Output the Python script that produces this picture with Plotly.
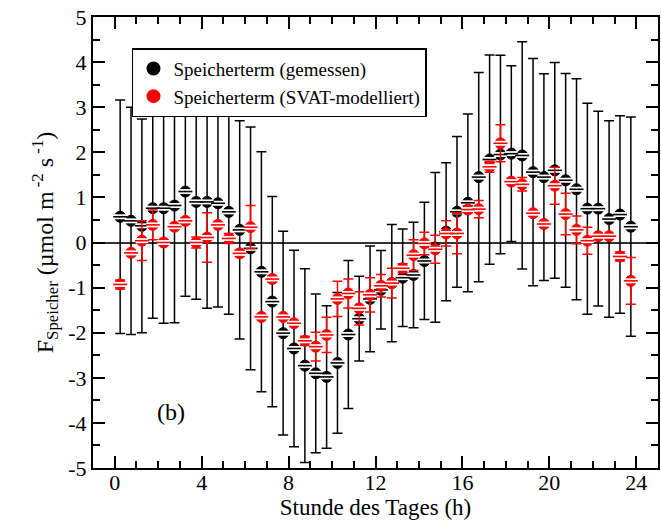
import plotly.graph_objects as go

hours = [0.25, 0.75, 1.25, 1.75, 2.25, 2.75, 3.25, 3.75, 4.25, 4.75, 5.25, 5.75,
         6.25, 6.75, 7.25, 7.75, 8.25, 8.75, 9.25, 9.75, 10.25, 10.75, 11.25, 11.75,
         12.25, 12.75, 13.25, 13.75, 14.25, 14.75, 15.25, 15.75, 16.25, 16.75, 17.25, 17.75,
         18.25, 18.75, 19.25, 19.75, 20.25, 20.75, 21.25, 21.75, 22.25, 22.75, 23.25, 23.75]

measured = [0.57, 0.48, 0.37, 0.76, 0.76, 0.82, 1.13, 0.90, 0.90, 0.87, 0.68, 0.28,
            -0.13, -0.65, -1.31, -2.01, -2.35, -2.73, -2.90, -2.98, -2.67, -2.04, -1.69, -1.25,
            -1.05, -0.90, -0.78, -0.72, -0.41, -0.11, 0.24, 0.68, 0.88, 1.45, 1.84, 1.95,
            1.97, 1.93, 1.56, 1.45, 1.60, 1.38, 1.18, 0.75, 0.75, 0.52, 0.62, 0.35]
measured_err = [2.59, 2.52, 2.37, 2.44, 2.55, 2.60, 2.32, 2.16, 2.36, 2.30, 2.27, 2.42,
                2.69, 2.66, 2.33, 2.26, 2.18, 2.15, 1.76, 1.58, 1.56, 1.64, 0.94, 1.17,
                0.87, 1.30, 1.08, 1.17, 1.30, 1.66, 1.53, 1.67, 1.97, 2.32, 2.32, 2.20,
                1.95, 2.52, 2.52, 2.29, 2.39, 2.37, 2.45, 2.34, 2.16, 2.18, 2.19, 2.43]

modelled = [-0.93, -0.23, 0.04, 0.39, 0.00, 0.35, 0.48, 0.00, 0.11, 0.39, 0.09, -0.24,
            0.34, -1.65, -0.81, -1.65, -1.79, -2.18, -2.31, -2.05, -1.25, -1.13, -1.46, -1.16,
            -0.96, -0.90, -0.57, -0.28, -0.02, -0.15, 0.20, 0.20, 0.73, 0.74, 1.68, 2.20,
            1.35, 1.29, 0.65, 0.41, 1.26, 0.63, 0.28, 0.04, 0.14, 0.14, -0.31, -0.85]
modelled_err = [0.10, 0.06, 0.44, 0.33, 0.05, 0.05, 0.07, 0.12, 0.55, 0.05, 0.11, 0.07,
                0.48, 0.05, 0.07, 0.05, 0.05, 0.10, 0.32, 0.39, 0.39, 0.32, 0.37, 0.38,
                0.25, 0.33, 0.10, 0.34, 0.25, 0.31, 0.28, 0.45, 0.07, 0.19, 0.12, 0.41,
                0.05, 0.15, 0.05, 0.06, 0.41, 0.46, 0.31, 0.30, 0.06, 0.05, 0.10, 0.52]

x_ticks = [0, 4, 8, 12, 16, 20, 24]
y_ticks = [-5, -4, -3, -2, -1, 0, 1, 2, 3, 4, 5]

FONT = "Liberation Serif, Times New Roman, serif"

fig = go.Figure()


def add_series(y, err, color, name):
    fig.add_trace(go.Scatter(
        x=hours, y=y, mode="markers", name=name,
        marker=dict(symbol="circle", size=11, color=color,
                    line=dict(color=color, width=1)),
        error_y=dict(type="data", array=err, visible=True, color=color,
                     thickness=1.5, width=5),
    ))
    # striped look: white band with a coloured centre line
    fig.add_trace(go.Scatter(
        x=hours, y=y, mode="markers", showlegend=False, hoverinfo="skip",
        marker=dict(symbol="line-ew", size=9,
                    line=dict(color="white", width=5)),
    ))
    fig.add_trace(go.Scatter(
        x=hours, y=y, mode="markers", showlegend=False, hoverinfo="skip",
        marker=dict(symbol="line-ew", size=10,
                    line=dict(color=color, width=1.6)),
    ))


add_series(measured, measured_err, "black", "Speicherterm (gemessen)")
add_series(modelled, modelled_err, "red", "Speicherterm (SVAT-modelliert)")

axis_common = dict(
    showline=True, linecolor="black", linewidth=2, mirror="allticks",
    ticks="inside", ticklen=12, tickwidth=1.5, tickcolor="black",
    showgrid=False,
    tickfont=dict(family=FONT, size=22, color="black"),
)

fig.update_xaxes(
    range=[-1, 25], tickvals=x_ticks, ticktext=[str(v) for v in x_ticks],
    zeroline=False, ticklabelstandoff=-6,
    minor=dict(dtick=1, tick0=0, ticks="inside", ticklen=7, tickwidth=1.5,
               tickcolor="black", showgrid=False),
    title=dict(text="Stunde des Tages (h)", font=dict(family=FONT, size=23, color="black"),
               standoff=0),
    **axis_common,
)
fig.update_yaxes(
    range=[-5, 5], tickvals=y_ticks, ticktext=[str(v) for v in y_ticks],
    zeroline=True, zerolinecolor="#333333", zerolinewidth=1.5,
    minor=dict(dtick=0.5, tick0=0, ticks="inside", ticklen=7, tickwidth=1.5,
               tickcolor="black", showgrid=False),
    title=dict(text="F<sub>Speicher</sub> (µmol m<sup> -2</sup> s<sup> -1</sup>)",
               font=dict(family=FONT, size=24, color="black"), standoff=8),
    **axis_common,
)

fig.add_annotation(text="(b)", xref="paper", yref="paper", x=0.109, y=0.09,
                   showarrow=False, font=dict(family=FONT, size=24, color="black"))

fig.update_layout(
    width=661, height=526,
    margin=dict(l=93, r=1, t=17, b=58),
    paper_bgcolor="white", plot_bgcolor="white",
    font=dict(family=FONT, color="black"),
    showlegend=True,
    legend=dict(x=0.069, y=0.931, xanchor="left", yanchor="top",
                bgcolor="white", bordercolor="black", borderwidth=1.5,
                font=dict(family=FONT, size=19, color="black"),
                tracegroupgap=0, itemsizing="constant"),
)

fig.write_html("out.html")
